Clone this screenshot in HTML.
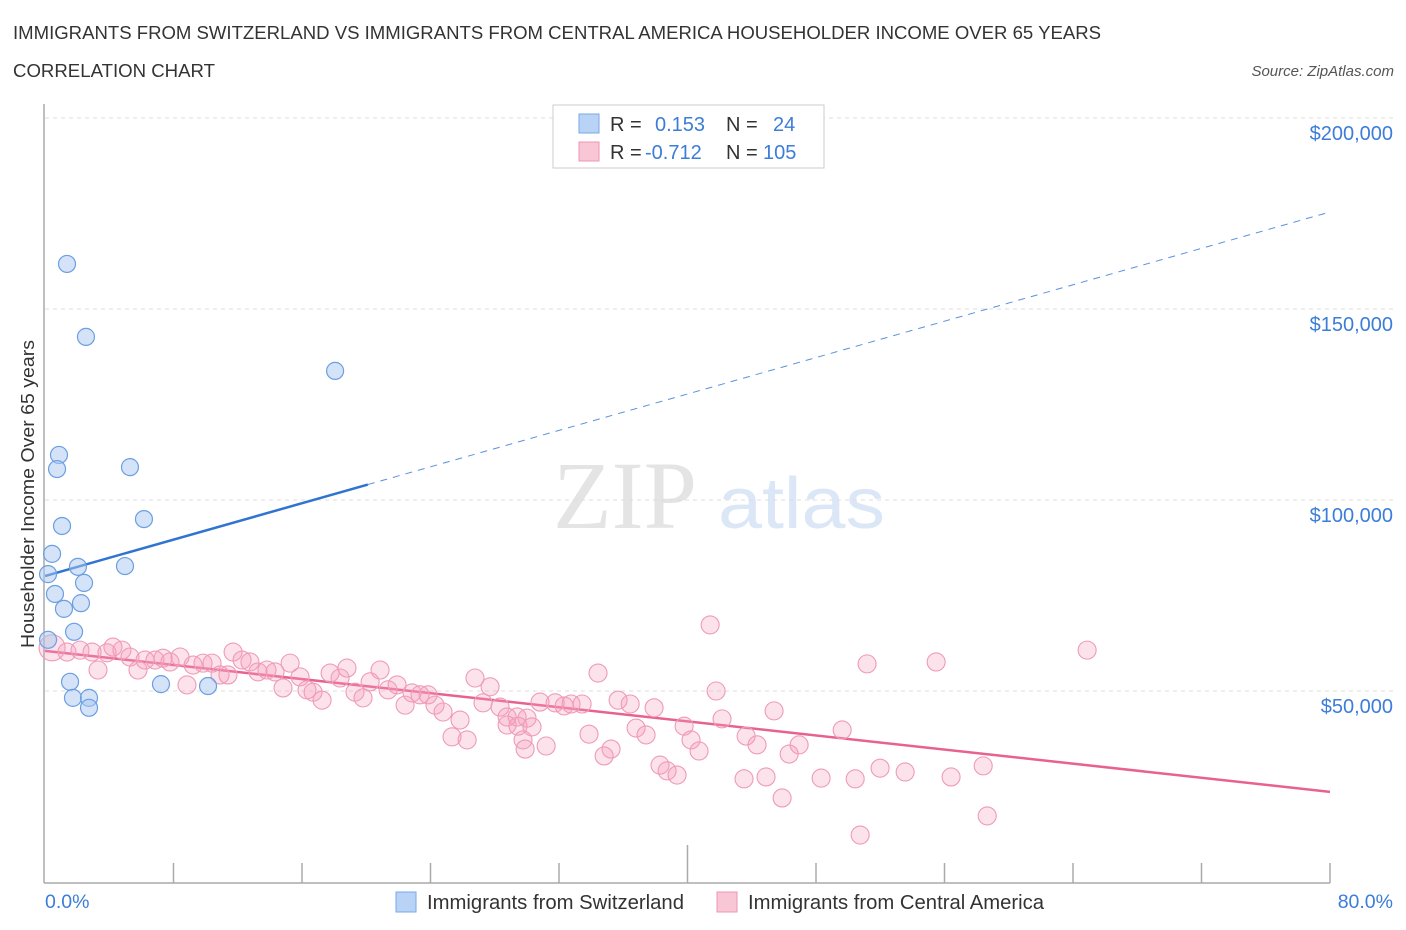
<!DOCTYPE html>
<html><head><meta charset="utf-8"><style>
body{margin:0;background:#fff;font-family:"Liberation Sans",sans-serif;}
svg{display:block}
</style></head><body>
<svg id="chart" width="1406" height="930" xmlns="http://www.w3.org/2000/svg" font-family="Liberation Sans, sans-serif">
<text x="13" y="39" font-size="18" fill="#333" textLength="1088" lengthAdjust="spacingAndGlyphs">IMMIGRANTS FROM SWITZERLAND VS IMMIGRANTS FROM CENTRAL AMERICA HOUSEHOLDER INCOME OVER 65 YEARS</text>
<text x="13" y="77" font-size="18" fill="#333" textLength="202" lengthAdjust="spacingAndGlyphs">CORRELATION CHART</text>
<text x="1394" y="76" font-size="15" fill="#555" font-style="italic" text-anchor="end">Source: ZipAtlas.com</text>
<g>
<text x="553" y="528" font-family="Liberation Serif, serif" font-size="96" fill="#e4e4e4">ZIP</text>
<text x="718" y="528" font-size="72" fill="#dbe7f6" textLength="167" lengthAdjust="spacingAndGlyphs">atlas</text>
</g>
<g id="grid"></g>
<g id="axes"></g>
<g id="lines"></g>
<g id="points"></g>
<text transform="translate(34,494) rotate(-90)" font-size="18" fill="#333" text-anchor="middle" textLength="308" lengthAdjust="spacingAndGlyphs">Householder Income Over 65 years</text>
<g>
<rect x="553" y="105" width="271" height="63" fill="#fff" stroke="#ccc"/>
<rect x="579" y="114" width="20" height="19" fill="#b8d3f5" stroke="#7aa8e6"/>
<rect x="579" y="142" width="20" height="19" fill="#f9c6d6" stroke="#ec96b3"/>
<text x="610" y="131" font-size="20" fill="#333">R = </text><text x="655" y="131" font-size="20" fill="#3b7dd8">0.153</text>
<text x="726" y="131" font-size="20" fill="#333">N = </text><text x="773" y="131" font-size="20" fill="#3b7dd8">24</text>
<text x="610" y="159" font-size="20" fill="#333">R = </text><text x="645" y="159" font-size="20" fill="#3b7dd8">-0.712</text>
<text x="726" y="159" font-size="20" fill="#333">N = </text><text x="763" y="159" font-size="20" fill="#3b7dd8">105</text>
</g>
<g>
<rect x="396" y="892" width="20" height="20" fill="#b8d3f5" stroke="#7aa8e6"/>
<text x="427" y="909" font-size="20" fill="#333" textLength="257" lengthAdjust="spacingAndGlyphs">Immigrants from Switzerland</text>
<rect x="717" y="892" width="20" height="20" fill="#f9c6d6" stroke="#ec96b3"/>
<text x="748" y="909" font-size="20" fill="#333" textLength="296" lengthAdjust="spacingAndGlyphs">Immigrants from Central America</text>
</g>
</svg>
<script>
const yTicks=[50000,100000,150000,200000];
const yTickLabels=["$50,000","$100,000","$150,000","$200,000"];
const xTickLabels=["0.0%","80.0%"];
const swissX=[1.37,2.55,18.06,0.87,0.75,5.29,1.06,6.16,0.44,2.05,4.98,0.19,2.43,0.62,2.24,1.18,1.81,0.19,1.56,1.74,2.74,2.74,7.22,10.15];
const swissY=[161800,142700,133800,111800,108100,108600,93200,95000,85900,82500,82700,80600,78300,75400,73000,71500,65500,63400,52400,48200,48200,45600,51800,51300];
const camX=[0.44,1.37,2.18,2.93,3.30,3.86,4.23,4.79,5.29,5.79,6.23,6.85,7.35,7.78,8.41,8.84,9.22,9.84,10.40,10.90,11.39,11.71,12.27,12.76,13.26,13.82,14.32,14.82,15.26,15.88,16.31,16.69,17.25,17.75,18.37,18.80,19.30,19.80,20.24,20.86,21.36,21.92,22.42,22.85,23.35,23.85,24.28,24.78,25.34,25.84,26.28,26.77,27.27,27.71,28.33,28.77,29.39,30.01,29.76,41.41,34.43,51.18,55.48,41.78,30.82,31.76,32.32,32.75,33.44,35.68,36.43,37.92,45.39,42.15,28.77,29.45,30.32,33.87,36.80,37.42,39.79,40.22,40.72,43.65,44.33,46.95,46.33,49.63,29.89,31.20,35.24,34.81,38.29,38.73,39.35,43.52,44.89,48.32,50.44,51.99,53.55,56.41,58.41,45.89,58.66,50.75,64.88];
const camY=[61300,60200,60700,60200,55500,60000,61500,60700,58900,55500,58100,58100,58600,57600,58900,51600,56800,57300,57300,54200,54200,60200,58100,57600,55000,55500,55000,50800,57300,53700,50300,49700,47600,54700,53400,56000,49700,48200,52400,55500,50300,51600,46300,49500,49000,49000,46300,44500,38000,42400,37200,53400,46900,51100,45800,43200,43200,42900,37200,67300,54700,57100,57600,50000,47100,46900,46100,46600,46600,47600,46600,45600,44800,42700,41100,40800,40600,38700,40300,38500,40800,37200,34300,38200,35900,35900,33500,39800,34800,35600,34800,33000,30600,29100,28000,27000,27500,27200,27000,29800,28800,27500,30400,22000,17300,12300,60700];
const swissTrend=[80100,175400]; const swissSolidEnd=20.1;
const camTrend=[60500,23600];
const NS="http://www.w3.org/2000/svg";
function X(v){return 45+v*(1330-45)/80;}
function Y(v){return 882-v*(882-118)/200000;}
function mk(tag,attrs,parent){const e=document.createElementNS(NS,tag);for(const k in attrs)e.setAttribute(k,attrs[k]);document.getElementById(parent).appendChild(e);return e;}
yTicks.forEach((t,i)=>{
 const g=mk('line',{x1:45,x2:1393,y1:Y(t),y2:Y(t),stroke:'#ddd','stroke-dasharray':'4,4'},'grid');
 
 
 const l=mk('text',{x:1393,y:Y(t)+22,'font-size':20,fill:'#3b7dd8','text-anchor':'end'},'axes');
 l.textContent=yTickLabels[i];
 
 
});
const ax=mk('line',{x1:44,x2:44,y1:104,y2:883,stroke:'#aaa','stroke-width':1.5},'axes');


const bx=mk('line',{x1:44,x2:1330,y1:883,y2:883,stroke:'#aaa','stroke-width':1.5},'axes');


for(let i=1;i<=10;i++){
 const v=i*8;
 const t=mk('line',{x1:X(v),x2:X(v),y1:i==5?845:863,y2:883,stroke:'#aaa','stroke-width':1.5},'axes');
 
 
}
[[0,'start',45],[80,'end',1393]].forEach((d,i)=>{
 const t=mk('text',{x:d[2],y:908,'font-size':19.5,fill:'#3b7dd8','text-anchor':d[1]},'axes');
 t.textContent=xTickLabels[i];
 
 
});
function yAt(tr,x){return tr[0]+(tr[1]-tr[0])*x/80;}
const l1=mk('line',{x1:X(0),y1:Y(swissTrend[0]),x2:X(swissSolidEnd),y2:Y(yAt(swissTrend,swissSolidEnd)),stroke:'#2f74d0','stroke-width':2.5},'lines');


const l2=mk('line',{x1:X(swissSolidEnd),y1:Y(yAt(swissTrend,swissSolidEnd)),x2:X(80),y2:Y(swissTrend[1]),stroke:'#5a92dc','stroke-width':1,'stroke-dasharray':'7,6'},'lines');


const l3=mk('line',{x1:X(0),y1:Y(camTrend[0]),x2:X(80),y2:Y(camTrend[1]),stroke:'#e8628f','stroke-width':2.5},'lines');


camX.forEach((x,i)=>{
 const c=mk('circle',{cx:X(x),cy:Y(camY[i]),r:i==0?13:9,fill:'rgba(244,160,190,0.3)',stroke:'#ef9ab8','stroke-width':1.1},'points');
 
 
});
swissX.forEach((x,i)=>{
 const c=mk('circle',{cx:X(x),cy:Y(swissY[i]),r:8.5,fill:'rgba(170,200,240,0.5)',stroke:'#6b9fe2','stroke-width':1.2},'points');
 
 
});
</script>
</body></html>
